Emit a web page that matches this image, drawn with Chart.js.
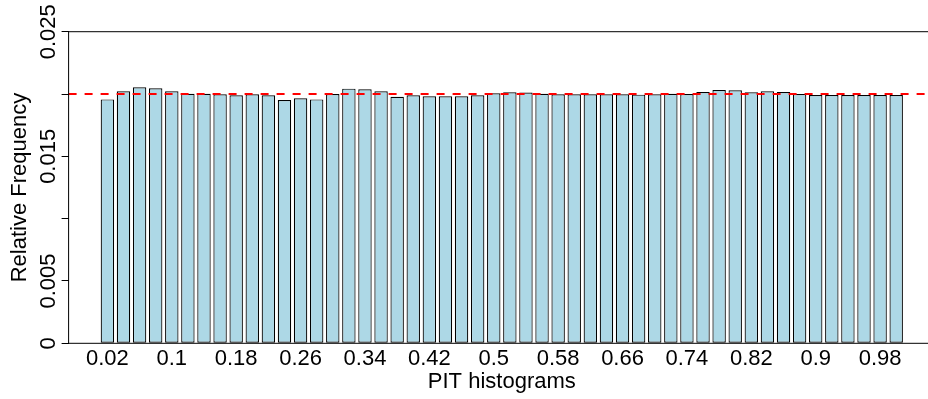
<!DOCTYPE html>
<html>
<head>
<meta charset="utf-8">
<script src="https://cdn.jsdelivr.net/npm/chart.js@4/dist/chart.umd.min.js"></script>
<style>
    html, body { margin: 0; padding: 0; background: #fff; overflow: hidden; }
    #wrap { width: 928px; height: 399px; overflow: hidden; }
</style>
</head>
<body>
<div id="wrap"><canvas id="pit" width="936" height="399"></canvas></div>
<script>
// PIT bins (bar names) and relative frequencies
const binLabels = [
    '0.02', '0.04', '0.06', '0.08', '0.1',  '0.12', '0.14', '0.16', '0.18', '0.2',
    '0.22', '0.24', '0.26', '0.28', '0.3',  '0.32', '0.34', '0.36', '0.38', '0.4',
    '0.42', '0.44', '0.46', '0.48', '0.5',  '0.52', '0.54', '0.56', '0.58', '0.6',
    '0.62', '0.64', '0.66', '0.68', '0.7',  '0.72', '0.74', '0.76', '0.78', '0.8',
    '0.82', '0.84', '0.86', '0.88', '0.9',  '0.92', '0.94', '0.96', '0.98', '1'
];
const relFreq = [
    0.01957, 0.02022, 0.02054, 0.02046, 0.02022, 0.02002, 0.02002, 0.01998, 0.01990, 0.01998,
    0.01990, 0.01952, 0.01966, 0.01957, 0.02000, 0.02043, 0.02038, 0.02022, 0.01978, 0.01990,
    0.01982, 0.01982, 0.01982, 0.01990, 0.02006, 0.02014, 0.02012, 0.02002, 0.01998, 0.01998,
    0.01998, 0.01998, 0.01998, 0.01995, 0.01998, 0.02002, 0.02000, 0.02016, 0.02032, 0.02030,
    0.02014, 0.02022, 0.02016, 0.02000, 0.01992, 0.01992, 0.01992, 0.01992, 0.01992, 0.01992
];
const uniformLevel = 0.02;           // red dashed reference line (1/50)
const yTickValues = [0, 0.005, 0.01, 0.015, 0.02, 0.025];
const yTickLabels = { 0: '0', 0.005: '0.005', 0.015: '0.015', 0.025: '0.025' }; // R drops 0.01 / 0.02
const labelEvery = 4;

// R barplot coordinates: bar width 1, space 0.2, usr extended by 4%
const barSpace = 0.2;
const barMid = i => (i + 1) * (1 + barSpace) - 0.5;
const barLeft = barSpace, barRight = binLabels.length * (1 + barSpace);
const xPad = (barRight - barLeft) * 0.04;
const xMin = barLeft - xPad, xMax = barRight + xPad;

const FONT = 'Liberation Sans, Arial, Helvetica, sans-serif';

const rStylePlugin = {
    id: 'rStyle',
    afterDraw(chart) {
        const { ctx, chartArea: a } = chart;
        const y = chart.scales.y;
        ctx.save();
        // box()
        ctx.strokeStyle = '#000';
        ctx.lineWidth = 1;
        ctx.strokeRect(a.left, a.top, a.right - a.left, a.bottom - a.top);
        // rotated y tick labels (las = 0)
        ctx.fillStyle = '#000';
        ctx.font = `22px ${FONT}`;
        ctx.textAlign = 'center';
        ctx.textBaseline = 'alphabetic';
        Object.keys(yTickLabels).forEach(k => {
            const py = y.getPixelForValue(Number(k));
            ctx.save();
            ctx.translate(a.left - 13.6, py);
            ctx.rotate(-Math.PI / 2);
            ctx.fillText(yTickLabels[k], 0, 0);
            ctx.restore();
        });
        ctx.restore();
    }
};

new Chart(document.getElementById('pit'), {
    type: 'bar',
    data: {
        datasets: [
            {
                type: 'line',
                data: [{ x: xMin, y: uniformLevel }, { x: xMax, y: uniformLevel }],
                borderColor: '#ff0000',
                borderWidth: 2,
                borderDash: [8, 8],
                pointRadius: 0,
                fill: false,
                order: 0
            },
            {
                type: 'bar',
                data: relFreq.map((v, i) => ({ x: barMid(i), y: v })),
                backgroundColor: '#add8e6',
                borderColor: '#000',
                borderWidth: 1.2,
                borderSkipped: false,
                barPercentage: 1 / (1 + barSpace),
                categoryPercentage: 1,
                order: 1
            }
        ]
    },
    options: {
        responsive: false,
        animation: false,
        layout: { padding: { top: 31.7, right: 1, left: 0, bottom: 0 } },
        plugins: { legend: { display: false }, tooltip: { enabled: false } },
        scales: {
            x: {
                type: 'linear',
                min: xMin,
                max: xMax,
                offset: false,
                grid: { display: false, drawTicks: false },
                border: { display: false },
                afterFit: s => { s.height = 55.7; },
                afterBuildTicks: s => {
                    s.ticks = binLabels.map((_, i) => i)
                        .filter(i => i % labelEvery === 0)
                        .map(i => ({ value: barMid(i) }));
                },
                ticks: {
                    autoSkip: false,
                    maxRotation: 0,
                    padding: 2,
                    color: '#000',
                    font: { family: FONT, size: 22 },
                    callback: v => binLabels[Math.round((v + 0.5) / (1 + barSpace)) - 1]
                },
                title: {
                    display: true,
                    text: 'PIT histograms',
                    color: '#000',
                    font: { family: FONT, size: 22 },
                    padding: { top: 0, bottom: 4.3 }
                }
            },
            y: {
                min: 0,
                max: 0.025,
                afterFit: s => { s.width = 68.6; },
                afterBuildTicks: s => { s.ticks = yTickValues.map(v => ({ value: v })); },
                grid: { drawOnChartArea: false, drawTicks: true, tickLength: 7, color: '#000' },
                border: { display: false },
                ticks: { display: false },
                title: {
                    display: true,
                    text: 'Relative Frequency',
                    color: '#000',
                    font: { family: FONT, size: 22 },
                    padding: { top: 7, bottom: 0 }
                }
            }
        }
    },
    plugins: [rStylePlugin]
});
</script>
</body>
</html>
